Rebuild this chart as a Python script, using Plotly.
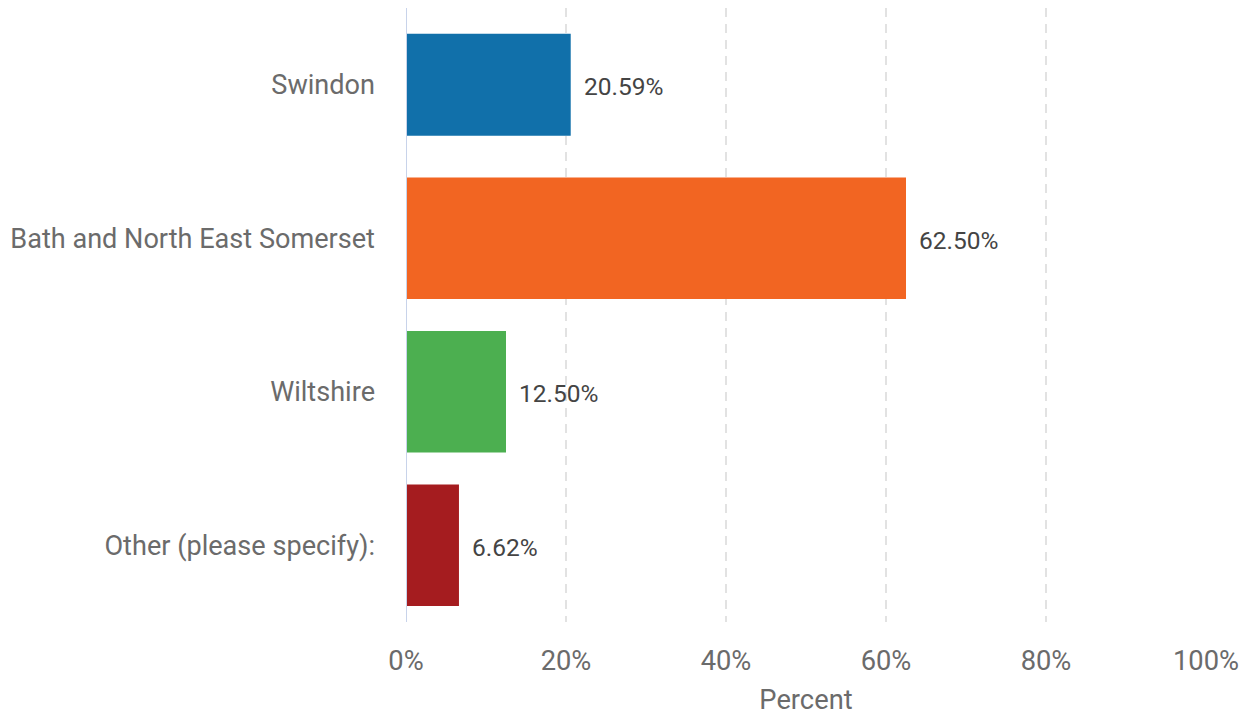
import plotly.graph_objects as go

categories = ["Swindon", "Bath and North East Somerset", "Wiltshire", "Other (please specify):"]
percent = [20.59, 62.50, 12.50, 6.62]
bar_colors = ["#1170aa", "#f26522", "#4caf50", "#a51c1f"]
bar_widths = [0.665, 0.79, 0.79, 0.79]
tick_vals = [0, 20, 40, 60, 80, 100]
tick_text = ["0%", "20%", "40%", "60%", "80%", "100%"]

fig = go.Figure()
fig.add_trace(go.Bar(
    x=percent,
    y=categories,
    orientation="h",
    width=bar_widths,
    marker=dict(color=bar_colors, line=dict(width=0)),
    hoverinfo="skip",
))

for cat, val in zip(categories, percent):
    fig.add_annotation(
        x=val, y=cat, text=f"{val:.2f}%", showarrow=False,
        xanchor="left", xshift=11, yshift=-2,
        font=dict(family="Roboto", size=24.5, color="#444444"),
    )

fig.update_layout(
    width=1244, height=716,
    margin=dict(l=406, r=38, t=8, b=94),
    paper_bgcolor="white", plot_bgcolor="white",
    showlegend=False,
    font=dict(family="Roboto", size=27, color="#666666"),
    xaxis=dict(
        range=[0, 100],
        tickvals=tick_vals, ticktext=tick_text,
        showgrid=True, gridcolor="#e2e2e2", griddash="9px,7px", gridwidth=2,
        zeroline=False, showline=False,
        ticks="", ticklabelstandoff=20,
        tickfont=dict(family="Roboto", size=27.3, color="#6b6b6b"),
        title=dict(text="Percent", font=dict(family="Roboto", size=27.3, color="#6b6b6b"), standoff=14),
        automargin=False,
        fixedrange=True,
    ),
    yaxis=dict(
        autorange="reversed",
        showgrid=False, zeroline=False,
        showline=False, ticks="", ticklabelstandoff=30,
        tickfont=dict(family="Roboto", size=27.1, color="#6b6b6b"),
        automargin=False,
        fixedrange=True,
    ),
)

fig.add_shape(type="line", xref="x", yref="paper", x0=0, x1=0, y0=0, y1=1,
              line=dict(color="#c8d3ea", width=2), layer="above")

fig.write_html("out.html")
